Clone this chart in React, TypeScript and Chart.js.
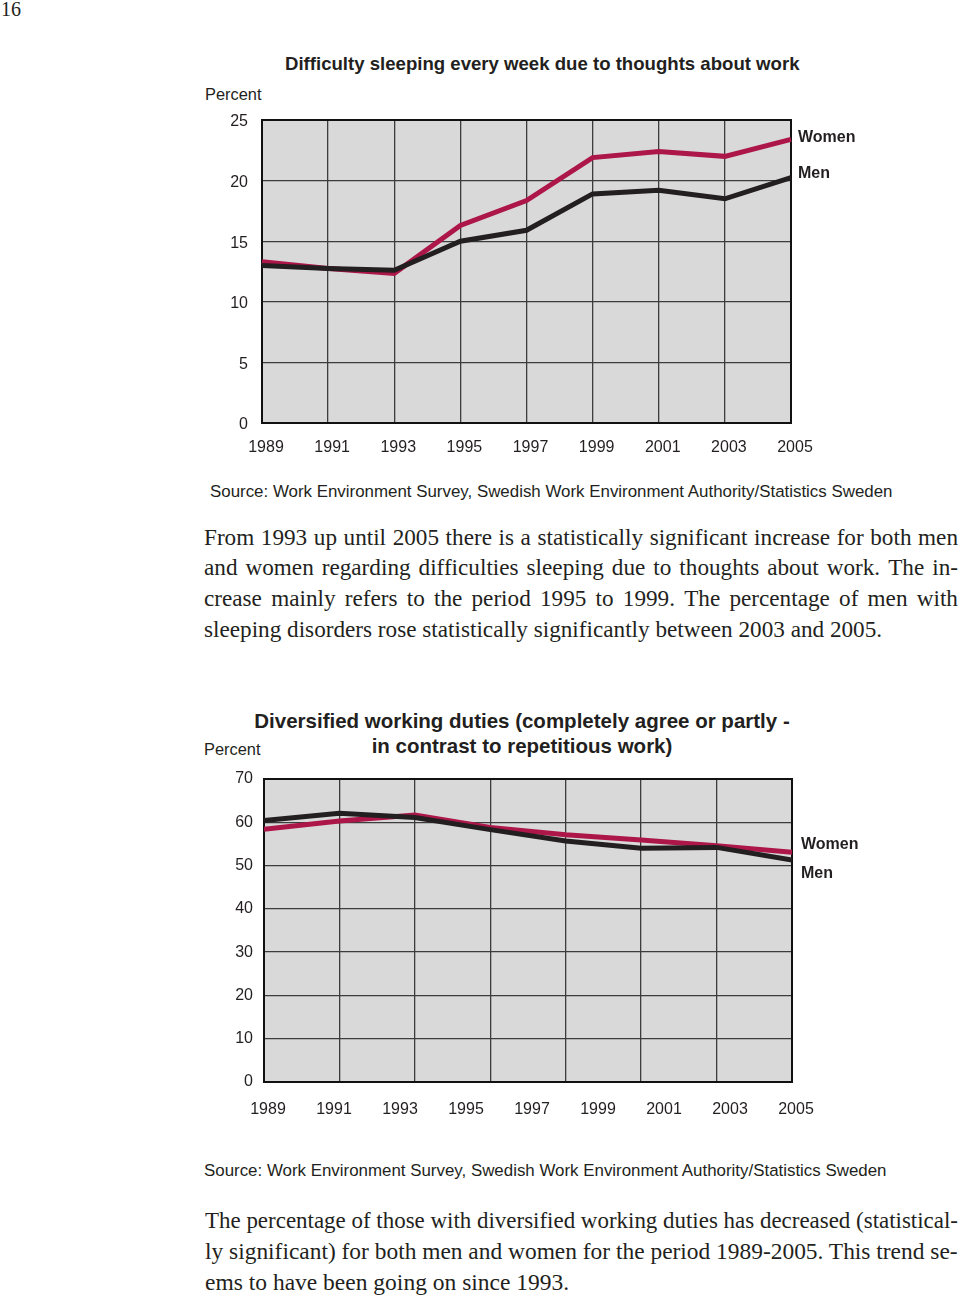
import React, { useEffect, useRef } from "react";
import { Chart, registerables } from "chart.js";

Chart.register(...registerables);

// ---------- data ----------
const years = ["1989", "1991", "1993", "1995", "1997", "1999", "2001", "2003", "2005"];
const seriesNames = ["Women", "Men"];

// Chart 1: Difficulty sleeping every week due to thoughts about work (percent)
const sleepWomen = [13.3, 12.75, 12.35, 16.3, 18.35, 21.9, 22.4, 22.0, 23.4];
const sleepMen = [13.0, 12.75, 12.6, 15.0, 15.9, 18.9, 19.2, 18.5, 20.25];

// Chart 2: Diversified working duties (percent) - 8 plotted points on 7 grid columns
const dutiesWomen = [58.4, 60.3, 61.7, 58.8, 57.1, 55.9, 54.6, 53.1];
const dutiesMen = [60.4, 62.1, 61.1, 58.3, 55.7, 54.0, 54.2, 51.3];

const sleepTitle = "Difficulty sleeping every week due to thoughts about work";
const dutiesTitle = ["Diversified working duties (completely agree or partly -", "in contrast to repetitious work)"];
const sourceText = "Source: Work Environment Survey, Swedish Work Environment Authority/Statistics Sweden";
const para1 = [
  "From 1993 up until 2005 there is a statistically significant increase for both men",
  "and women regarding difficulties sleeping due to thoughts about work. The in-",
  "crease mainly refers to the period 1995 to 1999. The percentage of men with",
  "sleeping disorders rose statistically significantly between 2003 and 2005.",
];
const para2 = [
  "The percentage of those with diversified working duties has decreased (statistical-",
  "ly significant) for both men and women for the period 1989-2005. This trend se-",
  "ems to have been going on since 1993.",
];

const WOMEN_COLOR = "#ad1649";
const MEN_COLOR = "#231f20";
const PLOT_BG = "#d9d9da";
const GRID = "#3c3c3c";
const SANS = "'Liberation Sans', Arial, Helvetica, sans-serif";
const SERIF = "'Liberation Serif', 'Times New Roman', serif";

const framePlugin = {
  id: "frame",
  beforeDraw(chart: any) {
    const { ctx, chartArea: a } = chart;
    ctx.save();
    ctx.fillStyle = PLOT_BG;
    ctx.fillRect(a.left, a.top, a.right - a.left, a.bottom - a.top);
    ctx.restore();
  },
  beforeDatasetsDraw(chart: any) {
    const { ctx, chartArea: a } = chart;
    ctx.save();
    ctx.strokeStyle = "#111";
    ctx.lineWidth = 2;
    ctx.strokeRect(a.left, a.top, a.right - a.left, a.bottom - a.top);
    ctx.restore();
  },
};

function fixedWidth(w: number) {
  return (s: any) => {
    s.width = w;
    s.paddingTop = 0;
    s.paddingBottom = 0;
  };
}
function fixedHeight(h: number) {
  return (s: any) => {
    s.height = h;
  };
}

const tickFont = { family: SANS, size: 16 };

function SleepChart() {
  const ref = useRef<HTMLCanvasElement>(null);
  useEffect(() => {
    const chart = new Chart(ref.current!, {
      type: "line",
      data: {
        labels: years,
        datasets: [
          { label: seriesNames[1], data: sleepMen, borderColor: MEN_COLOR, borderWidth: 5, pointRadius: 0, tension: 0 },
          { label: seriesNames[0], data: sleepWomen, borderColor: WOMEN_COLOR, borderWidth: 5, pointRadius: 0, tension: 0 },
        ],
      },
      options: {
        animation: false,
        responsive: false,
        events: [],
        layout: { padding: { top: 15, right: 69, left: 0, bottom: 0 } },
        plugins: { legend: { display: false }, title: { display: false }, tooltip: { enabled: false } },
        scales: {
          x: {
            type: "category",
            offset: false,
            grid: { color: GRID, lineWidth: 1.3, drawTicks: false, offset: false },
            border: { display: false },
            ticks: { color: "#231f20", font: tickFont, padding: 15, maxRotation: 0, autoSkip: false, labelOffset: 4 },
            afterFit: fixedHeight(42),
          },
          y: {
            min: 0,
            max: 25,
            grid: { color: GRID, lineWidth: 1.3, drawTicks: false },
            border: { display: false },
            ticks: { stepSize: 5, color: "#231f20", font: tickFont, padding: 14, labelOffset: 2 },
            afterFit: fixedWidth(62),
          },
        },
      },
      plugins: [framePlugin],
    } as any);
    return () => chart.destroy();
  }, []);
  return <canvas ref={ref} width={660} height={360} style={{ position: "absolute", left: 200, top: 105, width: 660, height: 360 }} />;
}

function DutiesChart() {
  const ref = useRef<HTMLCanvasElement>(null);
  useEffect(() => {
    const toPts = (arr: number[]) => arr.map((v, i) => ({ x: i, y: v }));
    const chart = new Chart(ref.current!, {
      type: "line",
      data: {
        datasets: [
          { label: seriesNames[1], data: toPts(dutiesMen), borderColor: MEN_COLOR, borderWidth: 5, pointRadius: 0, xAxisID: "x", yAxisID: "y" },
          { label: seriesNames[0], data: toPts(dutiesWomen), borderColor: WOMEN_COLOR, borderWidth: 5, pointRadius: 0, xAxisID: "x", yAxisID: "y" },
        ],
      },
      options: {
        animation: false,
        responsive: false,
        events: [],
        layout: { padding: { top: 14, right: 68, left: 0, bottom: 0 } },
        plugins: { legend: { display: false }, title: { display: false }, tooltip: { enabled: false } },
        scales: {
          x: {
            type: "linear",
            position: "bottom",
            min: 0,
            max: dutiesMen.length - 1,
            grid: { color: GRID, lineWidth: 1.3, drawTicks: false },
            border: { display: false },
            ticks: { display: false, stepSize: 1 },
            afterFit: fixedHeight(0),
          },
          x2: {
            type: "category",
            position: "bottom",
            labels: years,
            offset: false,
            grid: { display: false, drawTicks: false },
            border: { display: false },
            ticks: { color: "#231f20", font: tickFont, padding: 18, maxRotation: 0, autoSkip: false, labelOffset: 4 },
            afterFit: fixedHeight(53),
          },
          y: {
            min: 0,
            max: 70,
            grid: { color: GRID, lineWidth: 1.3, drawTicks: false },
            border: { display: false },
            ticks: { stepSize: 10, color: "#231f20", font: tickFont, padding: 11 },
            afterFit: fixedWidth(64),
          },
        },
      },
      plugins: [framePlugin],
    } as any);
    return () => chart.destroy();
  }, []);
  return <canvas ref={ref} width={660} height={370} style={{ position: "absolute", left: 200, top: 765, width: 660, height: 370 }} />;
}

function T(props: { x: number; y: number; size: number; font?: string; bold?: boolean; children: any; style?: any }) {
  const lh = Math.round(props.size * 1.3);
  return (
    <div
      style={{
        position: "absolute",
        left: props.x,
        top: props.y - lh / 2,
        lineHeight: lh + "px",
        fontSize: props.size,
        fontFamily: props.font || SANS,
        fontWeight: props.bold ? "bold" : "normal",
        color: "#231f20",
        whiteSpace: "nowrap",
        ...(props.style || {}),
      }}
    >
      {props.children}
    </div>
  );
}

let measureCtx: CanvasRenderingContext2D | null = null;
function measure(text: string, size: number) {
  if (!measureCtx) measureCtx = document.createElement("canvas").getContext("2d");
  measureCtx!.font = `${size}px "Liberation Serif"`;
  return measureCtx!.measureText(text).width;
}

function Para(props: { lines: string[]; x: number; y: number; width: number; step: number; size: number }) {
  return (
    <>
      {props.lines.map((ln, i) => {
        const last = i === props.lines.length - 1;
        const natural = measure(ln, props.size);
        const base: any = {
          position: "absolute",
          left: props.x,
          top: props.y + i * props.step - props.step / 2,
          height: props.step,
          lineHeight: props.step + "px",
          fontFamily: SERIF,
          fontSize: props.size,
          color: "#231f20",
          whiteSpace: "nowrap",
        };
        if (last) {
          return (
            <div key={i} style={base}>
              {ln}
            </div>
          );
        }
        if (natural >= props.width) {
          const k = props.width / natural;
          return (
            <div key={i} style={{ ...base, transform: `scaleX(${k})`, transformOrigin: "0 0" }}>
              {ln}
            </div>
          );
        }
        const words = ln.split(" ");
        return (
          <div key={i} style={{ ...base, width: props.width, display: "flex", justifyContent: "space-between" }}>
            {words.map((w, j) => (
              <span key={j}>{w}</span>
            ))}
          </div>
        );
      })}
    </>
  );
}

export default function App() {
  return (
    <div style={{ position: "absolute", left: 0, top: 0, width: 960, height: 1298, background: "#fff", overflow: "hidden" }}>
      <T x={1} y={9} size={20} font={SERIF}>16</T>

      <T x={285} y={64} size={18.6} bold>{sleepTitle}</T>
      <T x={205} y={94} size={16.4}>Percent</T>
      <SleepChart />
      <T x={798} y={136} size={16} bold>{seriesNames[0]}</T>
      <T x={798} y={172} size={16} bold>{seriesNames[1]}</T>
      <T x={210} y={492} size={16.9}>{sourceText}</T>

      <Para lines={para1} x={204} y={537} width={754} step={30.7} size={23.2} />

      <div
        style={{
          position: "absolute",
          left: 222,
          top: 708,
          width: 600,
          textAlign: "center",
          fontFamily: SANS,
          fontWeight: "bold",
          fontSize: 20.5,
          lineHeight: "25px",
          color: "#231f20",
          whiteSpace: "nowrap",
        }}
      >
        <div>{dutiesTitle[0]}</div>
        <div>{dutiesTitle[1]}</div>
      </div>
      <T x={204} y={749} size={16.4}>Percent</T>
      <DutiesChart />
      <T x={801} y={843} size={16} bold>{seriesNames[0]}</T>
      <T x={801} y={872} size={16} bold>{seriesNames[1]}</T>
      <T x={204} y={1171} size={16.9}>{sourceText}</T>

      <Para lines={para2} x={205} y={1220} width={753} step={31} size={23.5} />
    </div>
  );
}
